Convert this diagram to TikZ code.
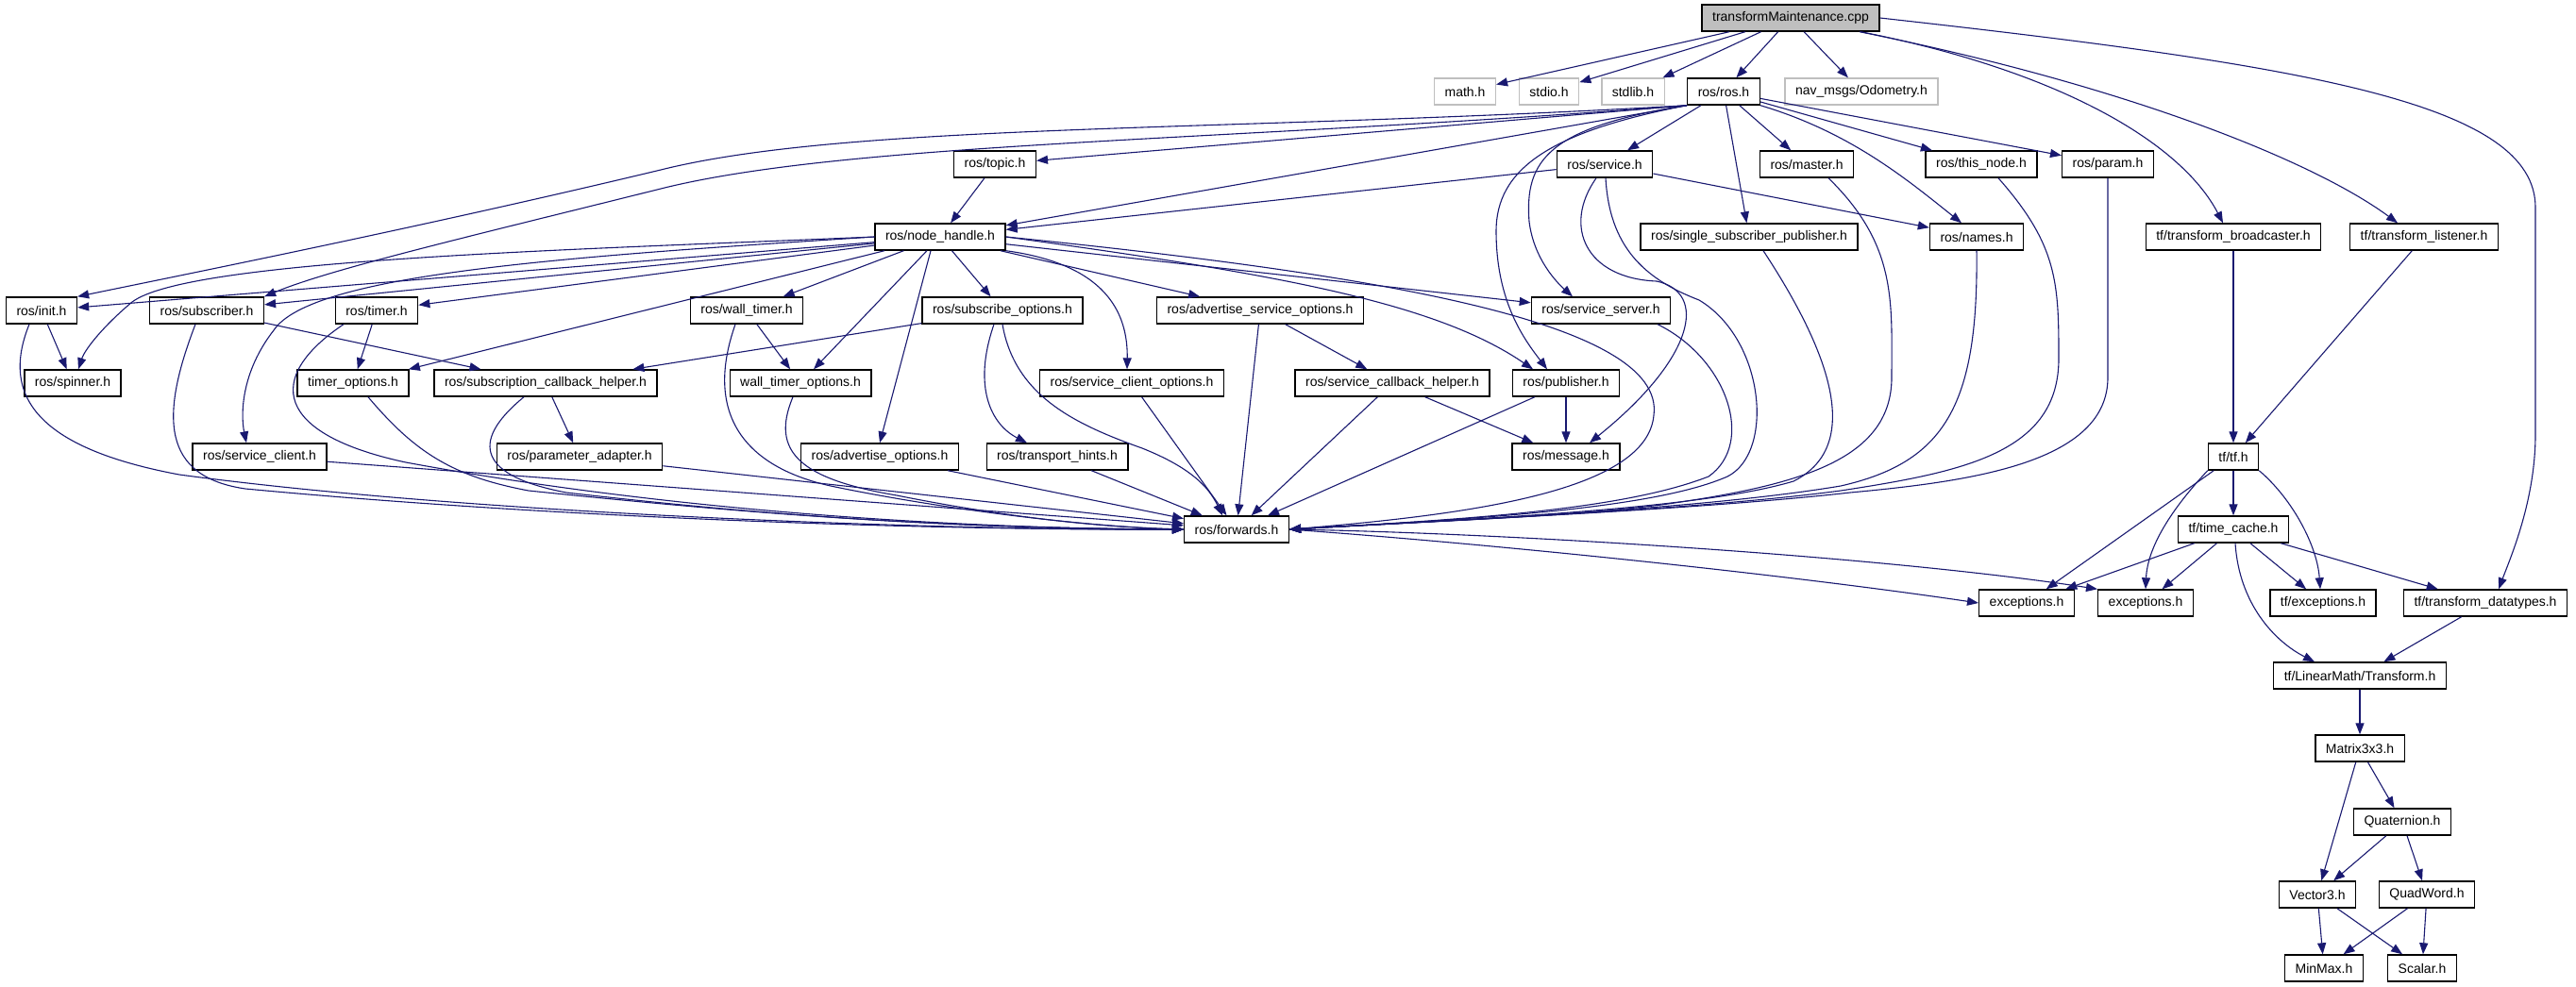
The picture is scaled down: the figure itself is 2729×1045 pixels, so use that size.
\documentclass[tikz,border=0pt]{standalone}
\usepackage{fontspec}
\setmainfont{Liberation Sans}
\usepackage{xcolor}
\usetikzlibrary{arrows.meta}
\definecolor{edgeblue}{HTML}{191970}
\definecolor{extgray}{HTML}{BFBFBF}

\begin{document}
\begin{tikzpicture}[x=1pt,y=-1pt,
  hdr/.style={draw=black,line width=1.4pt,fill=white,inner xsep=11pt,inner ysep=0pt,minimum height=28pt,font=\fontsize{14}{16}\selectfont},
  ext/.style={hdr,draw=extgray},
  root/.style={hdr,fill=extgray},
  inc/.style={draw=edgeblue,line width=1.1pt,-{Triangle[length=12pt,width=9pt]}}]
  \useasboundingbox (0,0) rectangle (2729,1045);
  \node[root] (top) at (1897,19) {transformMaintenance.cpp};
  \node[ext] (math) at (1552,97) {math.h};
  \node[ext] (stdio) at (1641,97) {stdio.h};
  \node[ext] (stdlib) at (1730,97) {stdlib.h};
  \node[hdr] (ros) at (1826,97) {ros/ros.h};
  \node[ext] (odom) at (1972,97) {nav\_msgs/Odometry.h};
  \node[hdr] (topic) at (1054,174) {ros/topic.h};
  \node[hdr] (service) at (1700,174) {ros/service.h};
  \node[hdr] (master) at (1914,174) {ros/master.h};
  \node[hdr] (thisnode) at (2099,174) {ros/this\_node.h};
  \node[hdr] (param) at (2233,174) {ros/param.h};
  \node[hdr] (nodehandle) at (996,251) {ros/node\_handle.h};
  \node[hdr] (ssp) at (1853,251) {ros/single\_subscriber\_publisher.h};
  \node[hdr] (names) at (2094,251) {ros/names.h};
  \node[hdr] (broadcaster) at (2366,251) {tf/transform\_broadcaster.h};
  \node[hdr] (listener) at (2568,251) {tf/transform\_listener.h};
  \node[hdr] (init) at (44,329) {ros/init.h};
  \node[hdr] (subscriber) at (219,329) {ros/subscriber.h};
  \node[hdr] (timer) at (399,329) {ros/timer.h};
  \node[hdr] (walltimer) at (791,329) {ros/wall\_timer.h};
  \node[hdr] (subopts) at (1062,329) {ros/subscribe\_options.h};
  \node[hdr] (advsrvopts) at (1335,329) {ros/advertise\_service\_options.h};
  \node[hdr] (srvserver) at (1696,329) {ros/service\_server.h};
  \node[hdr] (spinner) at (77,406) {ros/spinner.h};
  \node[hdr] (timeropts) at (374,406) {timer\_options.h};
  \node[hdr] (subcb) at (578,406) {ros/subscription\_callback\_helper.h};
  \node[hdr] (walltimeropts) at (848,406) {wall\_timer\_options.h};
  \node[hdr] (srvclientopts) at (1199,406) {ros/service\_client\_options.h};
  \node[hdr] (srvcb) at (1475,406) {ros/service\_callback\_helper.h};
  \node[hdr] (publisher) at (1659,406) {ros/publisher.h};
  \node[hdr] (srvclient) at (275,484) {ros/service\_client.h};
  \node[hdr] (paramadapter) at (614,484) {ros/parameter\_adapter.h};
  \node[hdr] (advopts) at (932,484) {ros/advertise\_options.h};
  \node[hdr] (hints) at (1120,484) {ros/transport\_hints.h};
  \node[hdr] (message) at (1659,484) {ros/message.h};
  \node[hdr] (tf) at (2366,484) {tf/tf.h};
  \node[hdr] (forwards) at (1310,561) {ros/forwards.h};
  \node[hdr] (timecache) at (2366,561) {tf/time\_cache.h};
  \node[hdr] (excA) at (2147,639) {exceptions.h};
  \node[hdr] (excB) at (2273,639) {exceptions.h};
  \node[hdr] (tfexc) at (2461,639) {tf/exceptions.h};
  \node[hdr] (datatypes) at (2633,639) {tf/transform\_datatypes.h};
  \node[hdr] (transform) at (2500,716) {tf/LinearMath/Transform.h};
  \node[hdr] (matrix) at (2500,793) {Matrix3x3.h};
  \node[hdr] (quat) at (2545,871) {Quaternion.h};
  \node[hdr] (vector) at (2455,948) {Vector3.h};
  \node[hdr] (quadword) at (2571,948) {QuadWord.h};
  \node[hdr] (minmax) at (2462,1026) {MinMax.h};
  \node[hdr] (scalar) at (2566,1026) {Scalar.h};
  \foreach \a/\b in {top/math, top/stdio, top/stdlib, top/ros, top/odom,
    ros/service, ros/ssp, ros/master, ros/thisnode, ros/param,
    topic/nodehandle, service/nodehandle, service/names,
    nodehandle/init, nodehandle/subscriber, nodehandle/timer, nodehandle/timeropts,
    nodehandle/walltimer, nodehandle/walltimeropts, nodehandle/subopts,
    nodehandle/advsrvopts, nodehandle/srvserver,
    init/spinner, subscriber/subcb, timer/timeropts, walltimer/walltimeropts,
    subopts/subcb, advsrvopts/forwards, advsrvopts/srvcb, subcb/paramadapter,
    srvclientopts/forwards, srvcb/forwards, srvcb/message, publisher/forwards,
    publisher/message, srvclient/forwards, paramadapter/forwards,
    advopts/forwards, hints/forwards,
    broadcaster/tf, listener/tf, tf/excA, tf/timecache, timecache/excA,
    timecache/excB, timecache/tfexc, timecache/datatypes, datatypes/transform,
    transform/matrix, matrix/vector, matrix/quat, quat/vector, quat/quadword,
    vector/minmax, vector/scalar, quadword/minmax, quadword/scalar}
    \draw[inc] (\a) -- (\b);
  \draw[inc] (ros.south west) -- (topic);
  \draw[inc] (ros.south west) -- (nodehandle);
  \draw[inc] (ros.south east) .. controls (1960,140) and (2020,190) .. ([xshift=-16pt]names.north);
  \draw[inc] (ros.south west) .. controls (1300,140) and (900,130) .. (700,180) .. controls (450,240) and (200,290) .. (init.north east);
  \draw[inc] (ros.south west) .. controls (1300,150) and (900,150) .. (700,200) .. controls (500,250) and (350,285) .. (subscriber.north east);
  \draw[inc] (ros.south west) .. controls (1640,140) and (1585,180) .. (1585,245) .. controls (1585,320) and (1615,360) .. ([xshift=-20pt]publisher.north);
  \draw[inc] (ros.south west) .. controls (1640,135) and (1615,170) .. (1620,235) .. controls (1625,275) and (1650,300) .. ([xshift=-30pt]srvserver.north);
  \draw[inc] ([xshift=-9pt]service.south) .. controls (1655,240) and (1680,295) .. (1755,298) .. controls (1810,310) and (1795,380) .. ([xshift=25pt]message.north);
  \draw[inc] ([xshift=1pt]service.south) .. controls (1705,260) and (1740,295) .. (1800,318) .. controls (1870,360) and (1880,480) .. (1830,505) .. controls (1750,540) and (1560,550) .. (forwards.east);
  \draw[inc] ([xshift=60pt]srvserver.south) .. controls (1830,380) and (1860,470) .. (1810,505) .. controls (1720,540) and (1560,550) .. (forwards.east);
  \draw[inc] ([xshift=15pt]ssp.south) .. controls (1930,360) and (1980,470) .. (1900,510) .. controls (1800,540) and (1560,550) .. (forwards.east);
  \draw[inc] ([xshift=23pt]master.south) .. controls (2010,260) and (2004,320) .. (2004,400) .. controls (2004,490) and (1900,515) .. (1760,535) .. controls (1650,548) and (1560,550) .. (forwards.east);
  \draw[inc] (names.south) .. controls (2096,430) and (2060,490) .. (1950,515) .. controls (1800,540) and (1560,550) .. (forwards.east);
  \draw[inc] ([xshift=18pt]thisnode.south) .. controls (2180,260) and (2181,300) .. (2181,380) .. controls (2181,480) and (2080,500) .. (1950,520) .. controls (1800,540) and (1560,550) .. (forwards.east);
  \draw[inc] (param.south) -- (2233,400) .. controls (2233,490) and (2090,510) .. (1960,522) .. controls (1800,540) and (1560,550) .. (forwards.east);
  \draw[inc] (nodehandle.east) .. controls (1450,290) and (1765,340) .. (1752,440) .. controls (1745,520) and (1560,545) .. (forwards.east);
  \draw[inc] (nodehandle.east) .. controls (1350,290) and (1520,320) .. ([xshift=-35pt]publisher.north);
  \draw[inc] (nodehandle.south east) .. controls (1170,280) and (1195,330) .. ([xshift=-5pt]srvclientopts.north);
  \draw[inc] ([xshift=-10pt]nodehandle.south) -- (advopts.north);
  \draw[inc] (nodehandle.west) .. controls (600,265) and (200,275) .. (140,320) .. controls (110,345) and (90,370) .. ([xshift=6pt]spinner.north);
  \draw[inc] (nodehandle.west) .. controls (600,272) and (330,290) .. (290,350) .. controls (255,395) and (255,440) .. ([xshift=-14pt]srvclient.north);
  \draw[inc] ([xshift=-13pt]init.south) .. controls (0,420) and (40,475) .. (190,503) .. controls (500,545) and (1000,562) .. (forwards.west);
  \draw[inc] ([xshift=-12pt]subscriber.south) .. controls (170,440) and (170,505) .. (260,518) .. controls (600,550) and (1000,562) .. (forwards.west);
  \draw[inc] ([xshift=-35pt]timer.south) .. controls (280,400) and (290,460) .. (430,490) .. controls (700,540) and (1000,560) .. (forwards.west);
  \draw[inc] ([xshift=16pt]timeropts.south) .. controls (440,480) and (480,505) .. (560,520) .. controls (800,545) and (1000,560) .. (forwards.west);
  \draw[inc] ([xshift=-23pt]subcb.south) .. controls (495,470) and (510,505) .. (600,522) .. controls (800,545) and (1000,560) .. (forwards.west);
  \draw[inc] ([xshift=-12pt]walltimer.south) .. controls (745,440) and (790,495) .. (880,515) .. controls (1000,540) and (1150,558) .. (forwards.west);
  \draw[inc] ([xshift=-8pt]walltimeropts.south) .. controls (815,480) and (850,508) .. (950,525) .. controls (1050,545) and (1150,558) .. (forwards.west);
  \draw[inc] (subopts.south) .. controls (1075,420) and (1140,450) .. (1210,475) .. controls (1260,495) and (1280,515) .. ([xshift=-15pt]forwards.north);
  \draw[inc] ([xshift=-9pt]subopts.south) .. controls (1030,410) and (1050,450) .. ([xshift=-32pt]hints.north);
  \draw[inc] (forwards.east) .. controls (1600,578) and (1900,610) .. (excA.west);
  \draw[inc] (forwards.east) .. controls (1600,565) and (2000,590) .. (excB.north west);
  \draw[inc] (top) .. controls (2180,75) and (2310,150) .. ([xshift=-11pt]broadcaster.north);
  \draw[inc] (top) .. controls (2250,90) and (2450,170) .. ([xshift=-28pt]listener.north);
  \draw[inc] (top.east) .. controls (2450,70) and (2686,110) .. (2686,220) -- (2686,460) .. controls (2686,530) and (2660,590) .. ([xshift=14pt]datatypes.north);
  \draw[inc] (tf.south west) .. controls (2300,540) and (2275,580) .. (excB.north);
  \draw[inc] (tf.south east) .. controls (2430,530) and (2455,580) .. ([xshift=-3pt]tfexc.north);
  \draw[inc] ([xshift=2pt]timecache.south) .. controls (2372,640) and (2410,680) .. ([xshift=-48pt]transform.north);
\end{tikzpicture}
\end{document}
